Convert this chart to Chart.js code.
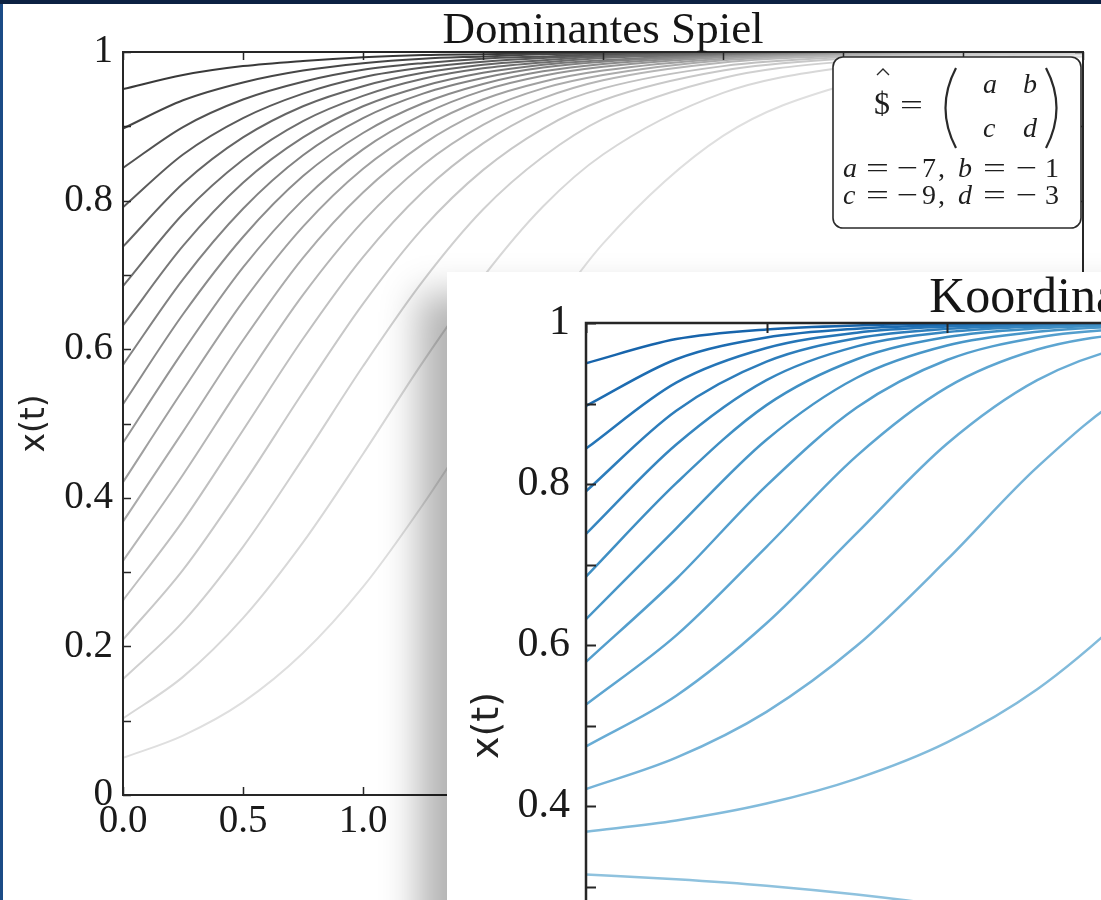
<!DOCTYPE html>
<html>
<head>
<meta charset="utf-8">
<title>Dominantes Spiel / Koordinationsspiel</title>
<script src="https://cdn.jsdelivr.net/npm/chart.js@4.4.1/dist/chart.umd.min.js"></script>
<style>
  html, body { margin: 0; padding: 0; }
  body { width: 1101px; height: 900px; overflow: hidden; position: relative; background: #0c2142; }
  #edge { position: absolute; left: 0; top: 4px; width: 3px; height: 896px; background: #1b4b86; }
  #panel1 { position: absolute; left: 3px; top: 4px; width: 1098px; height: 896px; background: #fff; }
  #panel2 { position: absolute; left: 447px; top: 272px; width: 1250px; height: 920px; background: #fff;
            box-shadow: -28px 22px 36px rgba(0, 0, 0, 0.3); }
  canvas { display: block; }
</style>
</head>
<body>
<div id="edge"></div>
<div id="panel1"><canvas id="dominantChart" width="1098" height="896"></canvas></div>
<div id="panel2"><canvas id="coordChart" width="1250" height="920"></canvas></div>

<script>
// ---- data ----

// Dominantes Spiel: x(t) for 18 start values, sampled at these times
const domTimes = [0, 0.25, 0.5, 0.75, 1, 1.25, 1.5, 1.75, 2, 2.5, 3, 3.5, 4];
const dom01 = [0.050, 0.080, 0.125, 0.191, 0.280, 0.391, 0.514, 0.635, 0.742, 0.887, 0.955, 0.983, 0.994];
const dom02 = [0.103, 0.159, 0.238, 0.340, 0.459, 0.583, 0.697, 0.792, 0.862, 0.945, 0.979, 0.992, 0.997];
const dom03 = [0.156, 0.233, 0.334, 0.453, 0.577, 0.692, 0.788, 0.859, 0.910, 0.965, 0.987, 0.995, 0.998];
const dom04 = [0.209, 0.303, 0.418, 0.542, 0.661, 0.763, 0.841, 0.897, 0.935, 0.975, 0.991, 0.997, 0.999];
const dom05 = [0.262, 0.369, 0.491, 0.614, 0.724, 0.812, 0.877, 0.922, 0.951, 0.981, 0.993, 0.997, 0.999];
const dom06 = [0.315, 0.431, 0.555, 0.673, 0.772, 0.848, 0.902, 0.938, 0.962, 0.986, 0.995, 0.998, 0.999];
const dom07 = [0.368, 0.489, 0.612, 0.723, 0.811, 0.876, 0.921, 0.951, 0.969, 0.989, 0.996, 0.998, 0.999];
const dom08 = [0.421, 0.545, 0.664, 0.765, 0.843, 0.898, 0.936, 0.960, 0.975, 0.991, 0.997, 0.999, 1.000];
const dom09 = [0.474, 0.597, 0.710, 0.801, 0.869, 0.916, 0.948, 0.968, 0.980, 0.993, 0.997, 0.999, 1.000];
const dom10 = [0.526, 0.647, 0.751, 0.833, 0.891, 0.931, 0.957, 0.974, 0.984, 0.994, 0.998, 0.999, 1.000];
const dom11 = [0.579, 0.694, 0.789, 0.861, 0.911, 0.944, 0.965, 0.979, 0.987, 0.995, 0.998, 0.999, 1.000];
const dom12 = [0.632, 0.739, 0.824, 0.885, 0.927, 0.954, 0.972, 0.983, 0.989, 0.996, 0.999, 0.999, 1.000];
const dom13 = [0.685, 0.782, 0.855, 0.907, 0.941, 0.964, 0.978, 0.986, 0.992, 0.997, 0.999, 1.000, 1.000];
const dom14 = [0.738, 0.823, 0.885, 0.927, 0.954, 0.972, 0.983, 0.989, 0.994, 0.998, 0.999, 1.000, 1.000];
const dom15 = [0.791, 0.862, 0.911, 0.944, 0.966, 0.979, 0.987, 0.992, 0.995, 0.998, 0.999, 1.000, 1.000];
const dom16 = [0.844, 0.899, 0.936, 0.960, 0.976, 0.985, 0.991, 0.994, 0.997, 0.999, 1.000, 1.000, 1.000];
const dom17 = [0.897, 0.935, 0.959, 0.975, 0.985, 0.991, 0.994, 0.997, 0.998, 0.999, 1.000, 1.000, 1.000];
const dom18 = [0.950, 0.969, 0.981, 0.988, 0.993, 0.996, 0.997, 0.998, 0.999, 1.000, 1.000, 1.000, 1.000];
const dominantSeries = [dom01, dom02, dom03, dom04, dom05, dom06, dom07, dom08, dom09,
                        dom10, dom11, dom12, dom13, dom14, dom15, dom16, dom17, dom18];

// payoff matrix shown in the box
const payoffNames = ['a', 'b', 'c', 'd'];
const payoffValues = [-7, -1, -9, -3];

// Koordinationsspiel: same start values, curves split around x = 1/3
const kooTimes = [0, 0.25, 0.5, 0.75, 1, 1.25, 1.5, 2, 2.5, 3];
const koo01 = [0.050, 0.033, 0.021, 0.013, 0.008, 0.005, 0.003, 0.001, 0.0004, 0.0002];
const koo02 = [0.103, 0.074, 0.050, 0.033, 0.021, 0.013, 0.008, 0.003, 0.001, 0.0004];
const koo03 = [0.156, 0.121, 0.089, 0.062, 0.042, 0.027, 0.017, 0.007, 0.002, 0.001];
const koo04 = [0.209, 0.176, 0.141, 0.107, 0.077, 0.053, 0.035, 0.014, 0.005, 0.002];
const koo05 = [0.262, 0.238, 0.210, 0.177, 0.143, 0.109, 0.078, 0.036, 0.014, 0.006];
const koo06 = [0.315, 0.309, 0.301, 0.290, 0.276, 0.258, 0.236, 0.172, 0.100, 0.048];
const koo07 = [0.368, 0.382, 0.403, 0.434, 0.479, 0.545, 0.638, 0.860, 0.973, 0.996];
const koo08 = [0.421, 0.460, 0.517, 0.599, 0.706, 0.821, 0.911, 0.985, 0.998, 1.000];
const koo09 = [0.474, 0.537, 0.627, 0.739, 0.850, 0.929, 0.971, 0.996, 0.9994, 1.000];
const koo10 = [0.526, 0.612, 0.722, 0.835, 0.920, 0.967, 0.987, 0.998, 1.000, 1.000];
const koo11 = [0.579, 0.682, 0.798, 0.895, 0.954, 0.982, 0.993, 0.999, 1.000, 1.000];
const koo12 = [0.632, 0.745, 0.855, 0.932, 0.972, 0.989, 0.996, 0.9995, 1.000, 1.000];
const koo13 = [0.685, 0.801, 0.898, 0.955, 0.9825, 0.9934, 0.9975, 0.9997, 1.000, 1.000];
const koo14 = [0.738, 0.849, 0.929, 0.971, 0.9887, 0.9958, 0.9984, 0.9998, 1.000, 1.000];
const koo15 = [0.791, 0.891, 0.952, 0.981, 0.9927, 0.9973, 0.999, 1.000, 1.000, 1.000];
const koo16 = [0.844, 0.926, 0.969, 0.988, 0.9955, 0.9983, 0.9994, 1.000, 1.000, 1.000];
const koo17 = [0.897, 0.955, 0.982, 0.993, 0.9975, 0.9991, 0.9997, 1.000, 1.000, 1.000];
const koo18 = [0.950, 0.980, 0.992, 0.997, 0.999, 0.9996, 0.9999, 1.000, 1.000, 1.000];
const coordSeries = [koo01, koo02, koo03, koo04, koo05, koo06, koo07, koo08, koo09,
                     koo10, koo11, koo12, koo13, koo14, koo15, koo16, koo17, koo18];

// tick labels: y ticks every 0.1 but only these carry a label
const yLabelled = [0, 0.2, 0.4, 0.6, 0.8, 1];

// ---- colours (matplotlib Greys / Blues) ----
const greys = ['#ffffff', '#f0f0f0', '#d9d9d9', '#bdbdbd', '#969696', '#737373', '#525252', '#252525', '#000000'];
const blues = ['#f7fbff', '#deebf7', '#c6dbef', '#9ecae1', '#6baed6', '#4292c6', '#2171b5', '#08519c', '#08306b'];

function hexToRgb(h) {
    const n = parseInt(h.slice(1), 16);
    return [(n >> 16) & 255, (n >> 8) & 255, n & 255];
}

function samplePalette(stops, f) {
    const pos = f * (stops.length - 1);
    const i = Math.min(Math.floor(pos), stops.length - 2);
    const t = pos - i;
    const a = hexToRgb(stops[i]), b = hexToRgb(stops[i + 1]);
    const c = a.map((v, k) => Math.round(v + (b[k] - v) * t));
    return `rgb(${c[0]}, ${c[1]}, ${c[2]})`;
}

// ---- plugins ----

// spines, inward tick marks on all four sides, and the axes title
const mplFrame = {
    id: 'mplFrame',
    afterDatasetsDraw(chart, args, opts) {
        const { ctx, chartArea: a, scales } = chart;
        ctx.save();
        ctx.strokeStyle = opts.color;
        ctx.lineWidth = opts.tickWidth;
        ctx.beginPath();
        scales.y.ticks.forEach(t => {
            const y = Math.round(scales.y.getPixelForValue(t.value)) + 0.5;
            ctx.moveTo(a.left, y); ctx.lineTo(a.left + opts.tickLen, y);
            ctx.moveTo(a.right, y); ctx.lineTo(a.right - opts.tickLen, y);
        });
        scales.x.ticks.forEach(t => {
            const x = Math.round(scales.x.getPixelForValue(t.value)) + 0.5;
            ctx.moveTo(x, a.bottom); ctx.lineTo(x, a.bottom - opts.tickLen);
            ctx.moveTo(x, a.top); ctx.lineTo(x, a.top + opts.tickLen);
        });
        ctx.stroke();

        ctx.lineWidth = opts.spineWidth;
        ctx.strokeRect(a.left, a.top, a.right - a.left, a.bottom - a.top);

        ctx.fillStyle = '#151515';
        ctx.font = opts.titleFont;
        ctx.textAlign = 'center';
        ctx.textBaseline = 'alphabetic';
        ctx.fillText(opts.title, (a.left + a.right) / 2 + (opts.titleDx || 0), a.top - opts.titleGap);
        ctx.restore();
    }
};

function putText(ctx, str, x, y, font, sx) {
    ctx.save();
    ctx.font = font;
    ctx.translate(x, y);
    ctx.scale(sx || 1, 1);
    ctx.fillText(str, 0, 0);
    ctx.restore();
}

// rounded box with the payoff matrix, top right of the first plot
const payoffBox = {
    id: 'payoffBox',
    afterDatasetsDraw(chart) {
        const { ctx, chartArea: a } = chart;
        const W = 248, H = 171;
        const L = a.right - W - 2, T = a.top + 5;
        const serif = "'Liberation Serif', 'DejaVu Serif', serif";
        const it = '28px ' + serif, itI = 'italic 28px ' + serif;

        ctx.save();
        ctx.beginPath();
        ctx.roundRect(L, T, W, H, 10);
        ctx.fillStyle = '#fff';
        ctx.fill();
        ctx.lineWidth = 1.6;
        ctx.strokeStyle = '#2a2a2a';
        ctx.stroke();

        ctx.fillStyle = '#1e1e1e';
        ctx.textAlign = 'left';
        ctx.textBaseline = 'alphabetic';

        // hat-dollar =
        putText(ctx, '$', L + 41, T + 57, '32px ' + serif);
        ctx.beginPath();
        ctx.lineWidth = 1.4;
        ctx.moveTo(L + 44, T + 18); ctx.lineTo(L + 50, T + 12); ctx.lineTo(L + 56, T + 18);
        ctx.stroke();
        putText(ctx, '=', L + 67, T + 57, it, 1.45);

        // matrix brackets and entries
        ctx.beginPath();
        ctx.lineWidth = 2.2;
        ctx.moveTo(L + 123, T + 11); ctx.quadraticCurveTo(L + 102, T + 51, L + 123, T + 91);
        ctx.moveTo(L + 213, T + 11); ctx.quadraticCurveTo(L + 234, T + 51, L + 213, T + 91);
        ctx.stroke();
        putText(ctx, payoffNames[0], L + 150, T + 36, itI);
        putText(ctx, payoffNames[1], L + 190, T + 36, itI);
        putText(ctx, payoffNames[2], L + 150, T + 80, itI);
        putText(ctx, payoffNames[3], L + 190, T + 80, itI);

        // value lines  a = -7, b = -1  /  c = -9, d = -3
        const rows = [[0, 1, T + 120], [2, 3, T + 147]];
        rows.forEach(([i, j, base]) => {
            const vi = payoffValues[i], vj = payoffValues[j];
            putText(ctx, payoffNames[i], L + 10, base, itI);
            putText(ctx, '=', L + 33, base, it, 1.45);
            if (vi < 0) putText(ctx, '\u2212', L + 64, base, it, 1.35);
            putText(ctx, String(Math.abs(vi)), L + 89, base, it);
            putText(ctx, ',', L + 105, base, it);
            putText(ctx, payoffNames[j], L + 125, base, itI);
            putText(ctx, '=', L + 150, base, it, 1.45);
            if (vj < 0) putText(ctx, '\u2212', L + 183, base, it, 1.35);
            putText(ctx, String(Math.abs(vj)), L + 212, base, it);
        });
        ctx.restore();
    }
};

// ---- chart builder ----
function buildChart(canvasId, times, series, cfg) {
    const datasets = series.map((vals, i) => ({
        data: vals.map((v, k) => ({ x: times[k], y: v })),
        borderColor: samplePalette(cfg.palette, cfg.f0 + cfg.fSpan * i / (series.length - 1)),
        borderWidth: cfg.lineWidth,
        pointRadius: 0,
        cubicInterpolationMode: 'monotone',
        fill: false
    }));

    const tickFont = { family: "'Liberation Serif', 'DejaVu Serif', serif", size: cfg.tickSize };

    return new Chart(document.getElementById(canvasId), {
        type: 'line',
        data: { datasets },
        options: {
            responsive: false,
            animation: false,
            devicePixelRatio: 1,
            events: [],
            layout: { padding: { top: cfg.padTop, right: cfg.padRight, left: 0, bottom: 0 } },
            plugins: {
                legend: { display: false },
                tooltip: { enabled: false },
                mplFrame: {
                    title: cfg.title,
                    titleFont: cfg.titleFont,
                    titleGap: cfg.titleGap,
                    titleDx: cfg.titleDx,
                    color: '#262626',
                    spineWidth: cfg.spineWidth,
                    tickWidth: cfg.tickWidth,
                    tickLen: cfg.tickLen
                }
            },
            scales: {
                x: {
                    type: 'linear',
                    min: 0,
                    max: cfg.xMax,
                    grid: { display: false, drawTicks: false },
                    border: { display: false },
                    ticks: {
                        stepSize: 0.5,
                        autoSkip: false,
                        maxRotation: 0,
                        padding: cfg.xTickPad,
                        color: '#1a1a1a',
                        font: tickFont,
                        callback: v => v.toFixed(1)
                    },
                    // fixed height, and no extra room for the end labels
                    afterFit: s => {
                        s.height = cfg.xAxisHeight;
                        s.paddingLeft = 0;
                        s.paddingRight = 0;
                    }
                },
                y: {
                    min: 0,
                    max: 1,
                    grid: { display: false, drawTicks: false },
                    border: { display: false },
                    ticks: {
                        stepSize: 0.1,
                        autoSkip: false,
                        padding: cfg.yTickPad,
                        color: '#1a1a1a',
                        font: tickFont,
                        callback: v => {
                            const hit = yLabelled.find(l => Math.abs(l - v) < 1e-6);
                            if (hit === undefined) return '';
                            return (hit === 0 || hit === 1) ? String(hit) : hit.toFixed(1);
                        }
                    },
                    title: {
                        display: true,
                        text: 'x(t)',
                        color: '#222',
                        font: { family: "'DejaVu Sans', sans-serif", size: cfg.yTitleSize },
                        padding: { top: cfg.yTitlePad, bottom: 0 }
                    },
                    afterFit: s => {
                        s.width = cfg.yAxisWidth;
                        s.paddingTop = 0;
                        s.paddingBottom = 0;
                    }
                }
            }
        },
        plugins: cfg.extraPlugins ? [mplFrame, ...cfg.extraPlugins] : [mplFrame]
    });
}

buildChart('dominantChart', domTimes, dominantSeries, {
    palette: greys, f0: 0.22, fSpan: 0.6, lineWidth: 2,
    padTop: 48, padRight: 18, yAxisWidth: 120, xAxisHeight: 105,
    xMax: 4, tickSize: 39, xTickPad: 3, yTickPad: 10,
    yTitleSize: 33, yTitlePad: 13,
    title: 'Dominantes Spiel', titleFont: "45px 'Liberation Serif', serif", titleGap: 9, titleDx: 0,
    spineWidth: 2, tickWidth: 1.5, tickLen: 8,
    extraPlugins: [payoffBox]
});

buildChart('coordChart', kooTimes, coordSeries, {
    palette: blues, f0: 0.25, fSpan: 0.55, lineWidth: 2.5,
    padTop: 51, padRight: 28, yAxisWidth: 139, xAxisHeight: 64,
    xMax: 3, tickSize: 42, xTickPad: 4, yTickPad: 16,
    yTitleSize: 38, yTitlePad: 18,
    title: 'Koordinationsspiel', titleFont: "50px 'Liberation Serif', serif", titleGap: 11, titleDx: -8,
    spineWidth: 2.5, tickWidth: 2, tickLen: 10
});
</script>
</body>
</html>
